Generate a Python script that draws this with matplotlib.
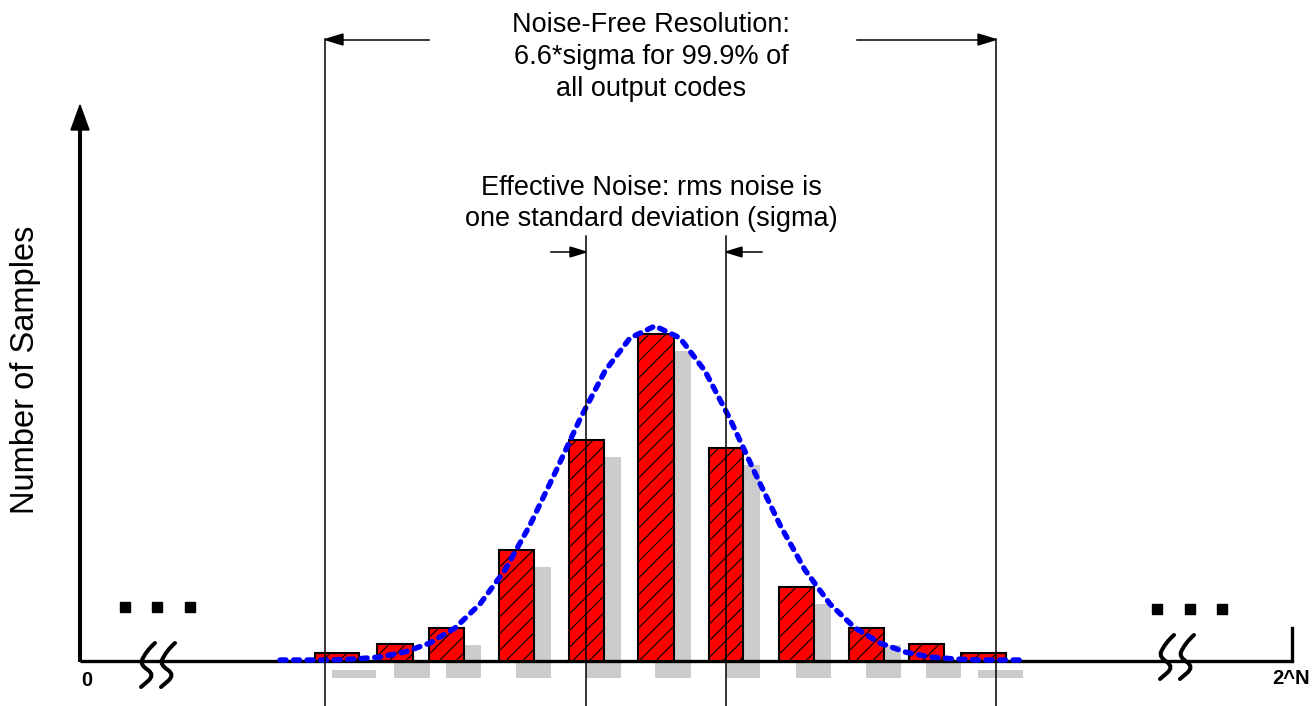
import numpy as np
import matplotlib
matplotlib.use("Agg")
import matplotlib.pyplot as plt
from matplotlib.path import Path
from matplotlib.patches import PathPatch, Polygon

plt.rcParams['font.family'] = ['Liberation Sans', 'DejaVu Sans']
plt.rcParams['hatch.linewidth'] = 0.8

# output code histogram (position along code axis, number of samples)
code_pos = [337, 395, 446.5, 516.5, 586.5, 656, 726, 796.5, 866, 926.5, 983.5]
code_width = [44, 36, 35, 35, 35, 36, 34, 35, 35, 35, 45]
counts = [8, 17, 33, 111, 221, 327, 213, 74, 33, 17, 8]

# gaussian envelope
curve_x = [280, 305, 330, 355, 380, 405, 430, 455, 480, 505, 530, 555, 580, 605,
           630, 655, 680, 705, 730, 755, 780, 805, 830, 855, 880, 905, 930, 955,
           980, 1005, 1025]
curve_y = [1, 1, 1, 2, 4, 9, 18, 33, 57, 91, 136, 188, 242, 290,
           323, 335, 323, 290, 242, 188, 136, 91, 57, 33, 18, 9, 4, 2,
           1, 1, 1]

sigma_lines = [586, 726]
nfr_lines = [325, 996]

fig = plt.figure(figsize=(13.12, 7.06), dpi=100)
ax = fig.add_axes([0, 0, 1, 1])
ax.set_xlim(0, 1312)
ax.set_ylim(-45, 661)
ax.axis('off')

# shadows + bars
shadow = 17
ax.bar(np.array(code_pos) + shadow, counts, width=code_width, bottom=-shadow,
       color='#cccccc', zorder=1)
ax.bar(code_pos, counts, width=code_width, color='#ff0000', edgecolor='black',
       hatch='//', linewidth=1.5, zorder=3)

# axes
ax.plot([80, 1292], [0, 0], color='black', lw=2.4, zorder=2, solid_capstyle='butt')
ax.plot([1292, 1292], [0, 33], color='black', lw=2.4, zorder=2)
ax.plot([80, 80], [-1, 532], color='black', lw=2.9, zorder=2, solid_capstyle='butt')
ax.add_patch(Polygon([[71, 531], [89, 531], [80, 556]], closed=True,
                     color='black', zorder=2))

# axis breaks
def draw_break(x0, y0):
    for dx in (0, 20):
        verts = [(155, 18), (146, 10), (142, 1), (140, -4), (148, -9),
                 (155, -14), (148, -20), (141, -26)]
        verts = [(x + x0 + dx, y + y0) for x, y in verts]
        codes = [Path.MOVETO, Path.CURVE3, Path.CURVE3, Path.CURVE3, Path.CURVE3,
                 Path.CURVE3, Path.CURVE3, Path.LINETO]
        ax.add_patch(PathPatch(Path(verts, codes), fill=False, lw=2.9,
                               capstyle='round', zorder=4))

draw_break(0, 0)
draw_break(1019, 8)

ax.plot([124.5, 156.5, 189.5], [54.5] * 3, 's', color='black', ms=7.9, zorder=4)
ax.plot([1156.5, 1189.5, 1221.5], [52.5] * 3, 's', color='black', ms=7.9, zorder=4)

ax.text(87, -19, '0', fontsize=14.5, fontweight='bold', ha='center', va='center')
ax.text(1291, -18, '2^N', fontsize=14.5, fontweight='bold', ha='center', va='center')

# gaussian
ax.plot(curve_x, curve_y, color='#0000ff', lw=3.9, linestyle=(0, (1.1, 1.4)),
        dash_capstyle='round', zorder=5)

# sigma markers
for x in sigma_lines:
    ax.plot([x, x], [-45, 425], color='black', lw=1.1, zorder=6)
ax.plot([551, 570], [409, 409], color='black', lw=1.1)
ax.add_patch(Polygon([[570, 414], [570, 404], [586, 409]], color='black'))
ax.plot([742, 762], [409, 409], color='black', lw=1.1)
ax.add_patch(Polygon([[742, 414], [742, 404], [726, 409]], color='black'))

# noise-free markers
for x in nfr_lines:
    ax.plot([x, x], [-45, 622], color='black', lw=1.1, zorder=6)
ax.plot([342, 429], [621.5, 621.5], color='black', lw=1.1)
ax.add_patch(Polygon([[343, 627], [343, 616], [325, 621.5]], color='black'))
ax.plot([857, 978], [621.5, 621.5], color='black', lw=1.1)
ax.add_patch(Polygon([[978, 627], [978, 616], [996, 621.5]], color='black'))

fs = 19.5
ax.text(651, 661 - 25, 'Noise-Free Resolution:', fontsize=fs, ha='center', va='center')
ax.text(651, 661 - 57, '6.6*sigma for 99.9% of', fontsize=fs, ha='center', va='center')
ax.text(651, 661 - 89, 'all output codes', fontsize=fs, ha='center', va='center')
ax.text(651, 661 - 188, 'Effective Noise: rms noise is', fontsize=fs, ha='center', va='center')
ax.text(651, 661 - 219, 'one standard deviation (sigma)', fontsize=fs, ha='center', va='center')

ax.text(26, 661 - 370, 'Number of Samples', fontsize=23.5, rotation=90,
        ha='center', va='center')

fig.savefig('out.png', dpi=100)
